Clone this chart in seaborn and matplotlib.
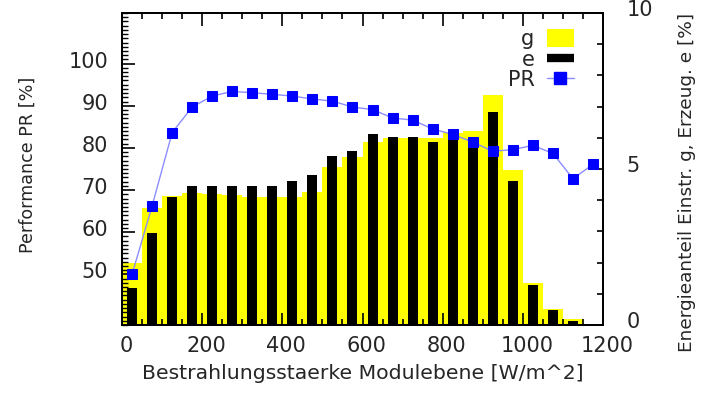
import matplotlib
matplotlib.use("Agg")
import matplotlib.pyplot as plt
import matplotlib.transforms as mtrans
from matplotlib.lines import Line2D
from matplotlib.patches import Patch
from matplotlib.ticker import MultipleLocator, FixedLocator
import seaborn as sns
import pandas as pd

# ---- data ----
irradiance = [25, 75, 125, 175, 225, 275, 325, 375, 425, 475, 525, 575,
              625, 675, 725, 775, 825, 875, 925, 975, 1025, 1075, 1125, 1175]
share_g = [1.98, 3.74, 4.13, 4.22, 4.19, 4.17, 4.09, 4.09, 4.09, 4.27, 5.07, 5.39,
           5.88, 5.98, 5.98, 5.98, 6.14, 6.22, 7.37, 4.97, 1.36, 0.50, 0.18, 0.0]
share_e = [1.18, 2.94, 4.09, 4.46, 4.46, 4.46, 4.46, 4.46, 4.63, 4.81, 5.43, 5.59,
           6.12, 6.04, 6.04, 5.88, 6.09, 5.77, 6.84, 4.63, 1.28, 0.48, 0.13, 0.0]
pr = [50.0, 66.2, 83.6, 89.7, 92.3, 93.4, 93.1, 92.7, 92.3, 91.6, 91.1, 89.7,
      89.1, 87.1, 86.6, 84.5, 83.2, 81.4, 79.2, 79.6, 80.6, 78.7, 72.7, 76.1]
xticks = [0, 200, 400, 600, 800, 1000, 1200]
left_ticks = [50, 60, 70, 80, 90, 100]
right_ticks = [0, 5, 10]

df = pd.DataFrame({"x": irradiance, "g": share_g, "e": share_e, "pr": pr})

sns.set_style("white")
plt.rcParams["font.family"] = ["DejaVu Sans"]
TFS = 15

fig = plt.figure(figsize=(7.01, 3.96), dpi=100)
ax = fig.add_axes([122 / 701, 71 / 396, 481 / 701, 312 / 396])
ax2 = ax.twinx()

# bars on secondary (right) axis, drawn beneath the PR line
sns.barplot(data=df, x="x", y="g", native_scale=True, width=1.0, color="#ffff00",
            saturation=1, errorbar=None, ax=ax2, linewidth=0)
sns.barplot(data=df, x="x", y="e", native_scale=True, width=0.5, color="#000000",
            saturation=1, errorbar=None, ax=ax2, linewidth=0)
sns.lineplot(data=df, x="x", y="pr", ax=ax, color="#8c8cff", linewidth=1.0,
             marker="s", markersize=7.5, markerfacecolor="#0000ff",
             markeredgecolor="#0000ff", legend=False)

ax.set_zorder(2)
ax2.set_zorder(1)
ax.patch.set_visible(False)

ax.set_xlim(0, 1200)
ax2.set_xlim(0, 1200)
ax.set_ylim(38, 112)
ax2.set_ylim(0, 10)

ax.xaxis.set_major_locator(FixedLocator(xticks))
ax.set_xticklabels([str(t) for t in xticks])
ax.xaxis.set_minor_locator(MultipleLocator(50))
ax.yaxis.set_major_locator(FixedLocator(left_ticks))
ax.set_yticklabels([str(t) for t in left_ticks])
ax.yaxis.set_minor_locator(MultipleLocator(1))
ax2.yaxis.set_major_locator(FixedLocator(right_ticks))
ax2.set_yticklabels([str(t) for t in right_ticks])
ax2.yaxis.set_minor_locator(MultipleLocator(1))

ax.tick_params(axis="x", which="both", direction="in", top=True, bottom=True,
               labelsize=TFS, pad=8, color="black")
ax.tick_params(axis="x", which="major", length=9, width=1.2)
ax.tick_params(axis="x", which="minor", length=4, width=1.2)
ax.tick_params(axis="y", which="both", direction="in", left=True, right=False,
               labelsize=TFS, pad=10, color="black")
ax.tick_params(axis="y", which="major", length=9, width=1.2)
ax.tick_params(axis="y", which="minor", length=4, width=1.0)
ax2.tick_params(axis="y", which="both", direction="in", right=True, left=False,
                labelsize=TFS, pad=17, length=4, width=1.2, color="black")
ax2.tick_params(axis="x", which="both", bottom=False, top=False, labelbottom=False)

# small text offsets as in the reference rendering
px = 1 / 100
for t in ax.xaxis.get_major_ticks():
    t.label1.set_transform(t.label1.get_transform()
                           + mtrans.ScaledTranslation(4 * px, 0, fig.dpi_scale_trans))
for t in ax.yaxis.get_major_ticks():
    t.label1.set_transform(t.label1.get_transform()
                           + mtrans.ScaledTranslation(0, 4 * px, fig.dpi_scale_trans))
for t in ax2.yaxis.get_major_ticks():
    t.label2.set_transform(t.label2.get_transform()
                           + mtrans.ScaledTranslation(0, 5 * px, fig.dpi_scale_trans))

for a in (ax, ax2):
    for s in a.spines.values():
        s.set_visible(True)
        s.set_color("black")
        s.set_linewidth(1.4)

ax.set_xlabel("Bestrahlungsstaerke Modulebene [W/m^2]", fontsize=14.7)
ax.xaxis.set_label_coords(0.5, -0.155)
ax.xaxis.label.set_va("center")
ax.set_ylabel("Performance PR [%]", fontsize=12.6)
ax.yaxis.set_label_coords(-0.195, 0.513)
ax.yaxis.label.set_va("center")
ax2.set_xlabel("")
ax2.set_ylabel("Energieanteil Einstr. g, Erzeug. e [%]", fontsize=13.3, loc="bottom")
ax2.yaxis.set_label_coords(1.155, -0.085)

handles = [
    Patch(facecolor="#ffff00", edgecolor="none", label="g"),
    Line2D([], [], color="black", linewidth=6, solid_capstyle="butt", label="e"),
    Line2D([], [], color="#8c8cff", linewidth=1.0, marker="s", markersize=8,
           markerfacecolor="#0000ff", markeredgecolor="#0000ff", label="PR"),
]
ax.legend(handles=handles, loc="upper right", bbox_to_anchor=(0.97, 0.995),
          frameon=False, markerfirst=False, fontsize=15, handlelength=1.3,
          handleheight=0.95, labelspacing=0.02, handletextpad=0.6, borderpad=0.2)

fig.savefig("out.png", dpi=100)
